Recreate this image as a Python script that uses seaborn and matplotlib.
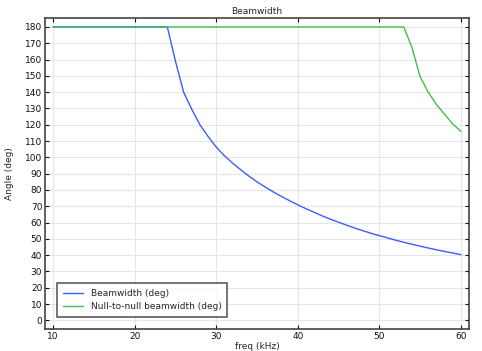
import numpy as np
import pandas as pd
import matplotlib
matplotlib.use("Agg")
import matplotlib.pyplot as plt
import seaborn as sns

freq = list(range(10, 61))
beamwidth = [180] * 15 + [159, 140, 129.5, 120, 112.8, 106.3, 101, 96.5, 92.4, 88.5,
                          85, 81.8, 78.8, 76, 73.4, 70.9, 68.5, 66.3, 64.1, 62.1,
                          60.2, 58.4, 56.6, 55.0, 53.4, 52.0, 50.6, 49.2, 47.9, 46.7,
                          45.5, 44.4, 43.3, 42.3, 41.3, 40.3]
null_to_null = [180] * 44 + [167.5, 149.5, 140, 132.5, 126.5, 120.5, 116]
series_names = ["Beamwidth (deg)", "Null-to-null beamwidth (deg)"]
colors = ["#3d5cff", "#3cc24a"]

df = pd.DataFrame({
    "freq": freq * 2,
    "value": beamwidth + null_to_null,
    "series": [series_names[0]] * len(freq) + [series_names[1]] * len(freq),
})

sns.set_style("white")
plt.rcParams["font.family"] = ["DejaVu Sans"]

fs = 6.5
fig = plt.figure(figsize=(4.82, 3.51), dpi=100)
ax = fig.add_axes([0.0934, 0.0627, 0.8796, 0.886])

sns.lineplot(data=df, x="freq", y="value", hue="series", palette=colors,
             linewidth=1.0, ax=ax, legend=True)

ax.set_xlim(9.0, 61.0)
ax.set_ylim(-5.3, 185.5)
ax.set_xticks([10, 20, 30, 40, 50, 60])
ax.set_yticks(list(range(0, 181, 10)))
ax.grid(True, color="#e6e6e6", linewidth=0.8)
ax.set_axisbelow(True)
ax.tick_params(direction="in", length=3, width=0.8, top=True, right=True,
               bottom=True, left=True, labelsize=fs, colors="#111111", pad=2)
ax.tick_params(axis="x", labeltop=False)
ax.tick_params(axis="y", labelright=False)
for s in ax.spines.values():
    s.set_visible(True)
    s.set_color("#444444")
    s.set_linewidth(1.2)

ax.set_xlabel("freq (kHz)", fontsize=fs, labelpad=1)
ax.set_ylabel("Angle (deg)", fontsize=fs, labelpad=8)
ax.set_title("Beamwidth", fontsize=fs, pad=3)

leg = ax.legend(loc="lower left", bbox_to_anchor=(0.018, 0.025), fontsize=fs,
                frameon=True, fancybox=False, shadow=False, handlelength=2.3,
                borderpad=0.6, labelspacing=0.5, title=None)
leg.get_frame().set_edgecolor("#333333")
leg.get_frame().set_linewidth(1.2)

fig.savefig("out.png", dpi=100)
